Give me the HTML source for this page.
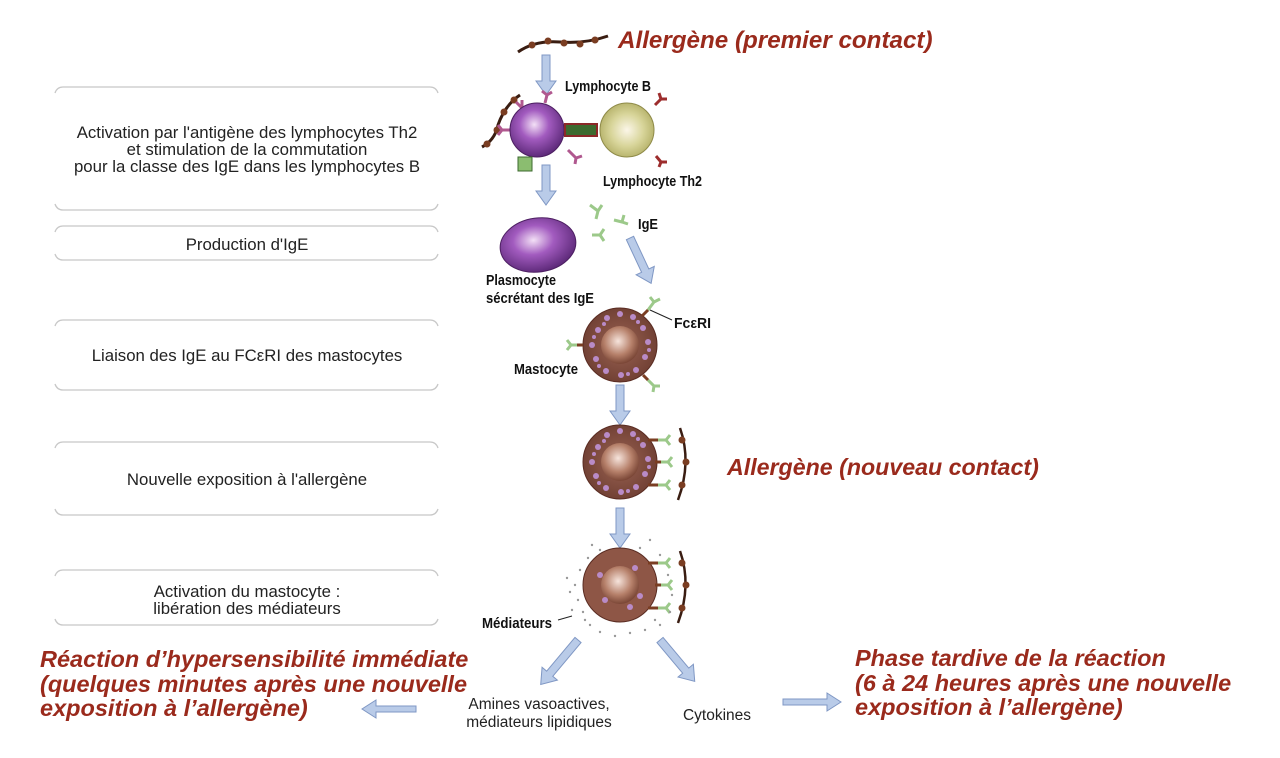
<!DOCTYPE html>
<html><head><meta charset="utf-8"><style>
html,body{margin:0;padding:0;background:#fff;width:1280px;height:758px;overflow:hidden}
svg{display:block}
.box{font-family:"Liberation Sans",sans-serif;font-size:16.8px;fill:#222;text-anchor:middle}
.lab{font-family:"Liberation Sans",sans-serif;font-weight:bold;font-size:15px;fill:#111}
.red{font-family:"Liberation Sans",sans-serif;font-weight:bold;font-style:italic;font-size:23.5px;fill:#9a2a1c}
.ln{stroke:#c8c8c8;stroke-width:1.3;fill:none}
.arr{fill:#b9cbe8;stroke:#7f97c4;stroke-width:1}
</style></head><body>
<svg width="1280" height="758" viewBox="0 0 1280 758">
<defs>
<radialGradient id="gp" cx="0.45" cy="0.4" r="0.6"><stop offset="0" stop-color="#f3e0f6"/><stop offset="0.45" stop-color="#a25bbf"/><stop offset="1" stop-color="#5e2a7a"/></radialGradient>
<radialGradient id="gy" cx="0.5" cy="0.5" r="0.6"><stop offset="0" stop-color="#fbf6e8"/><stop offset="0.5" stop-color="#d8d59a"/><stop offset="1" stop-color="#aaa65a"/></radialGradient>
<radialGradient id="gb" cx="0.45" cy="0.4" r="0.6"><stop offset="0" stop-color="#f6e4dc"/><stop offset="0.6" stop-color="#b6806a"/><stop offset="1" stop-color="#7a4636"/></radialGradient>
<radialGradient id="gm" cx="0.5" cy="0.5" r="0.55"><stop offset="0" stop-color="#9a6252"/><stop offset="1" stop-color="#6e3e32"/></radialGradient>
<g id="dn"><path class="arr" d="M-4,0 H4 V26 H10 L0,40 L-10,26 H-4 Z"/></g>
</defs>

<g class="ln">
<path d="M55,93 Q57,87 63,87 H430 Q436,87 438,93"/><path d="M55,204 Q57,210 63,210 H430 Q436,210 438,204"/>
<path d="M55,232 Q57,226 63,226 H430 Q436,226 438,232"/><path d="M55,254 Q57,260 63,260 H430 Q436,260 438,254"/>
<path d="M55,326 Q57,320 63,320 H430 Q436,320 438,326"/><path d="M55,384 Q57,390 63,390 H430 Q436,390 438,384"/>
<path d="M55,448 Q57,442 63,442 H430 Q436,442 438,448"/><path d="M55,509 Q57,515 63,515 H430 Q436,515 438,509"/>
<path d="M55,576 Q57,570 63,570 H430 Q436,570 438,576"/><path d="M55,619 Q57,625 63,625 H430 Q436,625 438,619"/>
</g>
<text class="box" x="247" y="138">Activation par l'antigène des lymphocytes Th2</text>
<text class="box" x="247" y="155">et stimulation de la commutation</text>
<text class="box" x="247" y="172">pour la classe des IgE dans les lymphocytes B</text>
<text class="box" x="247" y="250">Production d'IgE</text>
<text class="box" x="247" y="361">Liaison des IgE au FCεRI des mastocytes</text>
<text class="box" x="247" y="485">Nouvelle exposition à l'allergène</text>
<text class="box" x="247" y="597">Activation du mastocyte :</text>
<text class="box" x="247" y="614">libération des médiateurs</text>

<text class="red" x="618" y="48" style="font-size:24.2px">Allergène (premier contact)</text>
<text class="red" x="727" y="475" style="font-size:23.2px">Allergène (nouveau contact)</text>
<text class="red" x="40" y="667">Réaction d’hypersensibilité immédiate</text>
<text class="red" x="40" y="692">(quelques minutes après une nouvelle</text>
<text class="red" x="40" y="716">exposition à l’allergène)</text>
<text class="red" x="855" y="666">Phase tardive de la réaction</text>
<text class="red" x="855" y="691">(6 à 24 heures après une nouvelle</text>
<text class="red" x="855" y="715">exposition à l’allergène)</text>

<path d="M518,52 Q535,40 560,42 Q585,44 608,36" stroke="#3a1d12" stroke-width="3" fill="none"/>
<g fill="#7a3d22"><circle cx="532" cy="45" r="3.5"/><circle cx="548" cy="41" r="3.5"/><circle cx="564" cy="43" r="3.5"/><circle cx="580" cy="44" r="3.5"/><circle cx="595" cy="40" r="3.5"/></g>
<use href="#dn" x="546" y="55"/>
<use href="#dn" x="546" y="165"/>
<use href="#dn" x="620" y="385"/>
<use href="#dn" x="620" y="508"/>
<g transform="translate(630,238) rotate(-25)"><path class="arr" d="M-4,0 H4 V36 H10 L0,50 L-10,36 H-4 Z"/></g>
<g transform="translate(578,640) rotate(40)"><path class="arr" d="M-4,0 H4 V44 H10 L0,58 L-10,44 H-4 Z"/></g>
<g transform="translate(660,640) rotate(-40)"><path class="arr" d="M-4,0 H4 V40 H10 L0,54 L-10,40 H-4 Z"/></g>
<path class="arr" d="M416,706 H376 V700 L362,709 L376,718 V712 H416 Z"/>
<path class="arr" d="M783,699 H827 V693 L841,702 L827,711 V705 H783 Z"/>

<path d="M482,147 Q495,140 498,125 Q505,105 520,95" stroke="#3a1d12" stroke-width="3" fill="none"/>
<g fill="#7a3d22"><circle cx="487" cy="144" r="3.5"/><circle cx="497" cy="130" r="3.5"/><circle cx="504" cy="112" r="3.5"/><circle cx="514" cy="100" r="3.5"/></g>
<g stroke="#b0588f" stroke-width="3" fill="none"><path d="M522,108 l-6,-6 m6,6 l0,-8 m0,8"/><path d="M512,130 h-10 m0,0 l-4,-5 m4,5 l-4,5"/><path d="M568,150 l8,8 m0,0 l6,-2 m-6,2 l-1,6"/><path d="M545,103 l2,-8 m0,0 l-5,-4 m5,4 l5,-3"/></g>
<circle cx="537" cy="130" r="27" fill="url(#gp)" stroke="#4d1f62"/>
<circle cx="627" cy="130" r="27" fill="url(#gy)" stroke="#8f8b49"/>
<rect x="565" y="124" width="32" height="12" fill="#3d6a2f" stroke="#8c2828" stroke-width="2"/>
<rect x="518" y="157" width="14" height="14" fill="#8bbd70" stroke="#3d6a2f"/>
<g stroke="#9d2d2d" stroke-width="3" fill="none"><path d="M655,105 l6,-6 m0,0 l-2,-6 m2,6 l6,0"/><path d="M656,156 l5,6 m0,0 l-2,5 m2,-5 l6,0"/></g>
<text class="lab" x="565" y="91" textLength="86" lengthAdjust="spacingAndGlyphs">Lymphocyte B</text>
<text class="lab" x="603" y="186" textLength="99" lengthAdjust="spacingAndGlyphs">Lymphocyte Th2</text>

<ellipse cx="538" cy="245" rx="38" ry="27" fill="url(#gp)" stroke="#4d1f62" transform="rotate(-8 538 245)"/>
<g stroke="#9cc98a" stroke-width="3" fill="none">
<path d="M590,205 l8,6 m0,0 l4,-6 m-4,6 l-2,8"/><path d="M592,235 l8,0 m0,0 l4,-6 m-4,6 l4,6"/><path d="M614,220 l8,2 m0,0 l2,-7 m-2,7 l6,2"/>
</g>
<text class="lab" x="638" y="229" textLength="20" lengthAdjust="spacingAndGlyphs">IgE</text>
<text class="lab" x="486" y="285" textLength="70" lengthAdjust="spacingAndGlyphs">Plasmocyte</text>
<text class="lab" x="486" y="303" textLength="108" lengthAdjust="spacingAndGlyphs">sécrétant des IgE</text>

<g id="mast">
<circle cx="620" cy="345" r="37" fill="url(#gm)" stroke="#5a2c22"/>
<g fill="#b98bc7">
<circle cx="598" cy="330" r="3"/><circle cx="607" cy="318" r="3"/><circle cx="620" cy="314" r="3"/><circle cx="633" cy="317" r="3"/><circle cx="643" cy="328" r="3"/><circle cx="648" cy="342" r="3"/><circle cx="645" cy="357" r="3"/><circle cx="636" cy="370" r="3"/><circle cx="621" cy="375" r="3"/><circle cx="606" cy="371" r="3"/><circle cx="596" cy="359" r="3"/><circle cx="592" cy="345" r="3"/>
<circle cx="604" cy="324" r="2"/><circle cx="638" cy="322" r="2"/><circle cx="649" cy="350" r="2"/><circle cx="628" cy="374" r="2"/><circle cx="599" cy="366" r="2"/><circle cx="594" cy="337" r="2"/>
</g>
<circle cx="620" cy="345" r="19" fill="url(#gb)"/>
</g>
<g stroke="#9cc98a" stroke-width="3" fill="none"><path d="M648,310 l6,-8 m0,0 l-4,-5 m4,5 l6,-3"/><path d="M583,345 h-12 m0,0 l-4,-5 m4,5 l-4,5"/><path d="M648,380 l6,6 m0,0 l-1,6 m1,-6 l6,0"/></g>
<g stroke="#7a3d22" stroke-width="3"><path d="M642,316 l6,-6"/><path d="M583,345 h-6"/><path d="M643,375 l5,5"/></g>
<path d="M650,310 L672,320" stroke="#222"/>
<text class="lab" x="674" y="328" textLength="37" lengthAdjust="spacingAndGlyphs">FcεRI</text>
<text class="lab" x="514" y="374" textLength="64" lengthAdjust="spacingAndGlyphs">Mastocyte</text>

<use href="#mast" y="117"/>
<circle cx="620" cy="585" r="37" fill="#8e5646" stroke="#5a2c22"/>
<circle cx="620" cy="585" r="19" fill="url(#gb)"/>
<g fill="#b98bc7"><circle cx="600" cy="575" r="3"/><circle cx="635" cy="568" r="3"/><circle cx="605" cy="600" r="3"/><circle cx="630" cy="607" r="3"/><circle cx="640" cy="596" r="3"/></g>
<g stroke="#9cc98a" stroke-width="3" fill="none">
<path d="M658,440 l8,0 m0,0 l4,-5 m-4,5 l4,5"/><path d="M660,462 l8,0 m0,0 l4,-5 m-4,5 l4,5"/><path d="M658,485 l8,0 m0,0 l4,-5 m-4,5 l4,5"/>
<path d="M658,563 l8,0 m0,0 l4,-5 m-4,5 l4,5"/><path d="M660,585 l8,0 m0,0 l4,-5 m-4,5 l4,5"/><path d="M658,608 l8,0 m0,0 l4,-5 m-4,5 l4,5"/>
</g>
<g stroke="#7a3d22" stroke-width="3"><path d="M648,440 h10"/><path d="M655,462 h6"/><path d="M648,485 h10"/><path d="M648,563 h10"/><path d="M655,585 h6"/><path d="M648,608 h10"/></g>
<path d="M680,428 Q692,462 678,500" stroke="#3a1d12" stroke-width="2.5" fill="none"/>
<path d="M680,551 Q692,585 678,623" stroke="#3a1d12" stroke-width="2.5" fill="none"/>
<g fill="#7a3d22"><circle cx="682" cy="440" r="3.5"/><circle cx="686" cy="462" r="3.5"/><circle cx="682" cy="485" r="3.5"/><circle cx="682" cy="563" r="3.5"/><circle cx="686" cy="585" r="3.5"/><circle cx="682" cy="608" r="3.5"/></g>
<g fill="#999">
<circle cx="580" cy="570" r="1.2"/><circle cx="575" cy="585" r="1.2"/><circle cx="578" cy="600" r="1.2"/><circle cx="583" cy="612" r="1.2"/><circle cx="590" cy="625" r="1.2"/><circle cx="600" cy="632" r="1.2"/><circle cx="615" cy="636" r="1.2"/><circle cx="630" cy="633" r="1.2"/><circle cx="645" cy="630" r="1.2"/><circle cx="660" cy="625" r="1.2"/><circle cx="670" cy="612" r="1.2"/><circle cx="668" cy="575" r="1.2"/><circle cx="660" cy="555" r="1.2"/><circle cx="640" cy="548" r="1.2"/><circle cx="600" cy="550" r="1.2"/><circle cx="588" cy="558" r="1.2"/><circle cx="570" cy="592" r="1.2"/><circle cx="572" cy="610" r="1.2"/><circle cx="585" cy="620" r="1.2"/><circle cx="655" cy="620" r="1.2"/><circle cx="672" cy="595" r="1.2"/><circle cx="567" cy="578" r="1.2"/><circle cx="592" cy="545" r="1.2"/><circle cx="650" cy="540" r="1.2"/>
</g>
<path d="M558,620 L572,616" stroke="#222"/>
<text class="lab" x="482" y="628" textLength="70" lengthAdjust="spacingAndGlyphs">Médiateurs</text>
<text class="box" x="539" y="709" style="font-size:15.5px">Amines vasoactives,</text>
<text class="box" x="539" y="727" style="font-size:15.5px">médiateurs lipidiques</text>
<text class="box" x="717" y="720" style="font-size:15.5px">Cytokines</text>
</svg>
</body></html>
